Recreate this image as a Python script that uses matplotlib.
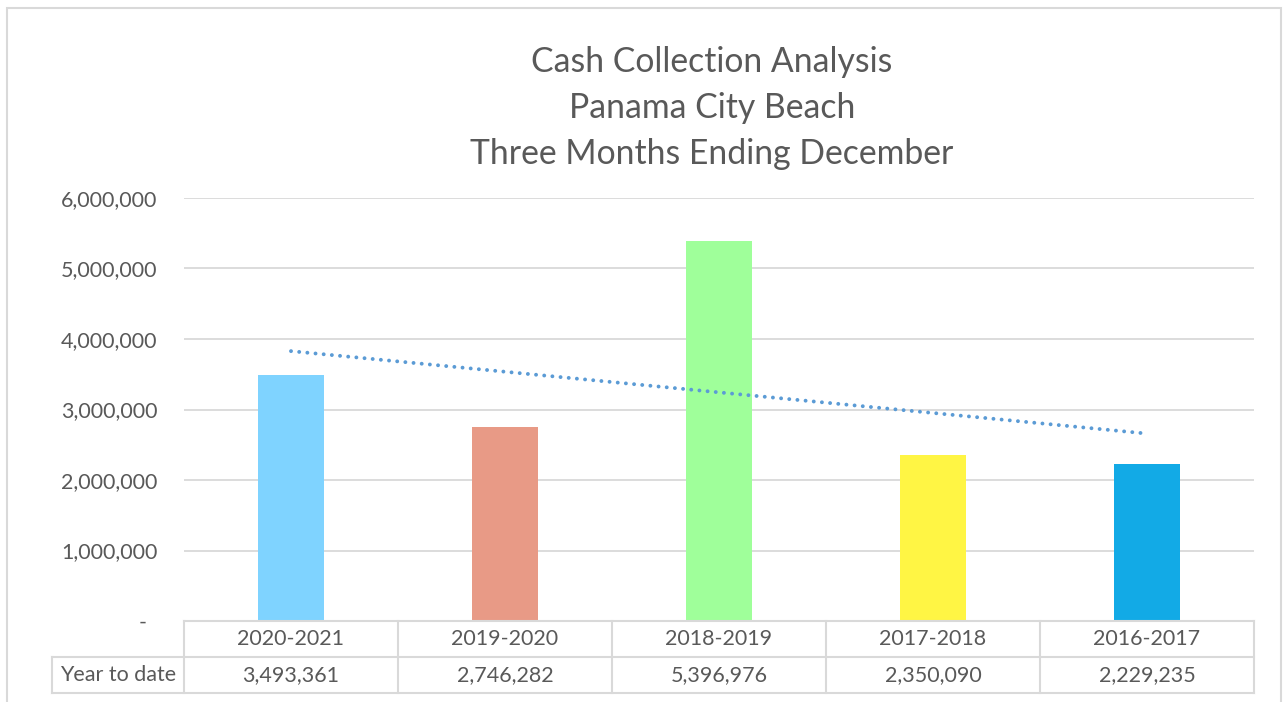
import numpy as np
import matplotlib.pyplot as plt
from matplotlib.lines import Line2D
from matplotlib.patches import Rectangle

plt.rcParams['font.family'] = ['Lato', 'DejaVu Sans']

# data
seasons = ['2020-2021', '2019-2020', '2018-2019', '2017-2018', '2016-2017']
ytd = [3493361, 2746282, 5396976, 2350090, 2229235]
bar_colors = ['#7FD3FF', '#E89A86', '#9FFF9A', '#FFF544', '#12AAE6']
yticks = [0, 1000000, 2000000, 3000000, 4000000, 5000000, 6000000]
row_label = 'Year to date'
title_lines = ['Cash Collection Analysis', 'Panama City Beach', 'Three Months Ending December']

W, H = 1283, 702
fig = plt.figure(figsize=(W / 100, H / 100), dpi=100)

def fx(px):
    return px / W

def fy(py):
    return 1 - py / H

# plot area in pixels
left, right, top, bottom = 184, 1254, 198, 621
ax = fig.add_axes([fx(left), fy(bottom), fx(right) - fx(left), fy(top) - fy(bottom)])

x = np.arange(len(seasons))
ax.bar(x, ytd, width=0.31, color=bar_colors, zorder=3)

# linear trendline (Excel style)
k, b = np.polyfit(x, ytd, 1)
ax.plot(x[[0, -1]], k * x[[0, -1]] + b, color='#5B9BD5', lw=2.8,
        linestyle=(0, (0.01, 2.1)), dash_capstyle='round', zorder=4)

ax.set_xlim(-0.5, len(seasons) - 0.5)
ax.set_ylim(0, 6000000)
ax.set_yticks(yticks)
ax.set_yticklabels(['-  '] + [f'{v:,}' for v in yticks[1:]])
ax.tick_params(axis='y', length=0, pad=19, labelsize=15.5, labelcolor='#595959')
ax.set_xticks([])
ax.grid(axis='y', color='#D9D9D9', lw=1.3, zorder=0)
for s in ax.spines.values():
    s.set_visible(False)

# chart border
fig.patches.append(Rectangle((fx(7), fy(720)), fx(1281) - fx(7), fy(8) - fy(720),
                             transform=fig.transFigure, fill=False,
                             edgecolor='#D9D9D9', lw=1.5))

# title
for i, line in enumerate(title_lines):
    fig.text(fx(712), fy(62 + i * 46), line, ha='center', va='center',
             fontsize=24.3, color='#595959')

# data table under the axis
lc = '#D9D9D9'
row1, row2, row3 = 621, 657, 693
label_left = 52
col_w = (right - left) / len(seasons)

def hline(y, x0, x1):
    fig.add_artist(Line2D([fx(x0), fx(x1)], [fy(y), fy(y)], color=lc, lw=1.5))

def vline(xp, y0, y1):
    fig.add_artist(Line2D([fx(xp), fx(xp)], [fy(y0), fy(y1)], color=lc, lw=1.5))

hline(row1, left, right)
hline(row2, label_left, right)
hline(row3, label_left, right)
vline(label_left, row2, row3)
for i in range(len(seasons) + 1):
    vline(left + i * col_w, row1, row3)

for i, (s, v) in enumerate(zip(seasons, ytd)):
    cx = left + (i + 0.5) * col_w
    fig.text(fx(cx), fy((row1 + row2) / 2), s, ha='center', va='center',
             fontsize=15.5, color='#595959')
    fig.text(fx(cx), fy((row2 + row3) / 2), f'{v:,}', ha='center', va='center',
             fontsize=15.5, color='#595959')
fig.text(fx((label_left + left) / 2), fy((row2 + row3) / 2), row_label,
         ha='center', va='center', fontsize=15.5, color='#595959')

fig.savefig('out.png', dpi=100)
